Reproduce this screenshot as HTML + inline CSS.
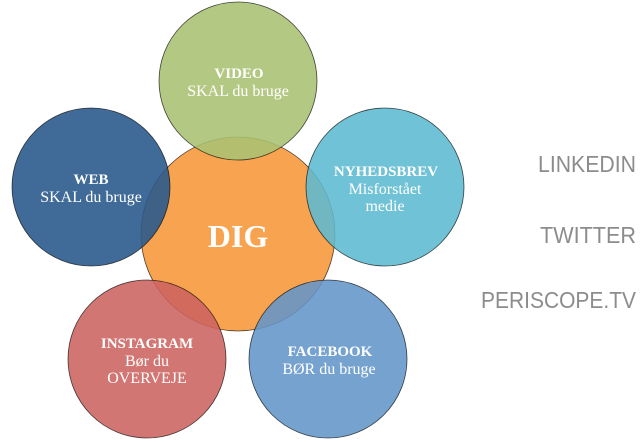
<!DOCTYPE html>
<html><head><meta charset="utf-8"><style>
html,body{margin:0;padding:0;background:#fff;width:644px;height:442px;overflow:hidden}
</style></head><body>
<svg width="644" height="442" viewBox="0 0 644 442" xmlns="http://www.w3.org/2000/svg">
<g stroke="#000" stroke-width="0.8" stroke-opacity="0.7">
<circle cx="238" cy="234" r="97" fill="#f8a350"/>
<circle cx="238" cy="81" r="79" fill="#a8c272" fill-opacity="0.88"/>
<circle cx="91" cy="187" r="79" fill="#2b5a8c" fill-opacity="0.9"/>
<circle cx="385" cy="187" r="79" fill="#5cb9d0" fill-opacity="0.88"/>
<circle cx="147" cy="359" r="79" fill="#cc6360" fill-opacity="0.88"/>
<circle cx="328" cy="359" r="79" fill="#6395c8" fill-opacity="0.88"/>
</g>
<g font-family="'Liberation Serif',serif" fill="#fff" text-anchor="middle" font-size="16">
<text x="239" y="78" font-weight="bold" font-size="15">VIDEO</text>
<text x="238" y="96">SKAL du bruge</text>
<text x="91" y="184" font-weight="bold" font-size="15">WEB</text>
<text x="91" y="202">SKAL du bruge</text>
<text x="386" y="176" font-weight="bold" font-size="15">NYHEDSBREV</text>
<text x="385" y="194">Misforstået</text>
<text x="385" y="211">medie</text>
<text x="147" y="348" font-weight="bold" font-size="15">INSTAGRAM</text>
<text x="147" y="366">Bør du</text>
<text x="147" y="383">OVERVEJE</text>
<text x="330" y="356" font-weight="bold" font-size="15">FACEBOOK</text>
<text x="329" y="374">BØR du bruge</text>
<text x="238" y="247" font-weight="bold" font-size="32">DIG</text>
</g>
<g font-family="'Liberation Sans',sans-serif" fill="#8c8c8c" font-size="23">
<text x="538" y="172" textLength="98" lengthAdjust="spacingAndGlyphs">LINKEDIN</text>
<text x="540" y="243" textLength="96" lengthAdjust="spacingAndGlyphs">TWITTER</text>
<text x="481" y="308" textLength="155" lengthAdjust="spacingAndGlyphs">PERISCOPE.TV</text>
</g>
</svg>
</body></html>
